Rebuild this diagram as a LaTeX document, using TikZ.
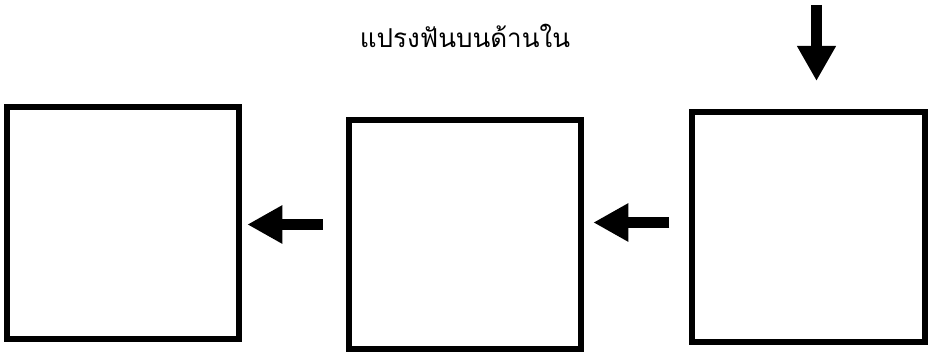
\documentclass[tikz,border=0pt]{standalone}
\usepackage{fontspec}
\newfontfamily\thaifont[Script=Thai]{Loma}
\usetikzlibrary{arrows.meta}
\tikzset{
  boxnode/.style={draw=black, line width=6pt, fill=white, inner sep=0pt, minimum width=232.5pt, minimum height=231pt},
  blockarrow/.style={line width=10.5pt, -{Triangle[length=35pt,width=36pt]}},
}
\begin{document}
\begin{tikzpicture}[x=1pt,y=-1pt]
\useasboundingbox (0,0) rectangle (932,352);
\node[boxnode, minimum width=232.5pt, minimum height=232pt] (b1) at (122.75,223) {};
\node[boxnode, minimum width=232.3pt, minimum height=229.3pt] (b2) at (464.85,234.35) {};
\node[boxnode, minimum width=233pt, minimum height=230pt] (b3) at (808.5,227) {};
\node[font=\thaifont\fontsize{26pt}{30pt}\selectfont, inner sep=0pt, anchor=base] (t) at (465,47.7) {แปรงฟันบนด้านใน};
\coordinate (a1s) at (322.7,224.5);
\coordinate (a1e) at (247.3,224.5);
\coordinate (a2s) at (669.3,222.5);
\coordinate (a2e) at (593.3,222.5);
\coordinate (a3s) at (816.5,5);
\coordinate (a3e) at (816.5,81);
\draw[blockarrow] (a1s) -- (a1e);
\draw[blockarrow] (a2s) -- (a2e);
\draw[blockarrow, line width=11.5pt, -{Triangle[length=35pt,width=36.5pt]}] (a3s) -- (a3e);
\end{tikzpicture}
\end{document}
